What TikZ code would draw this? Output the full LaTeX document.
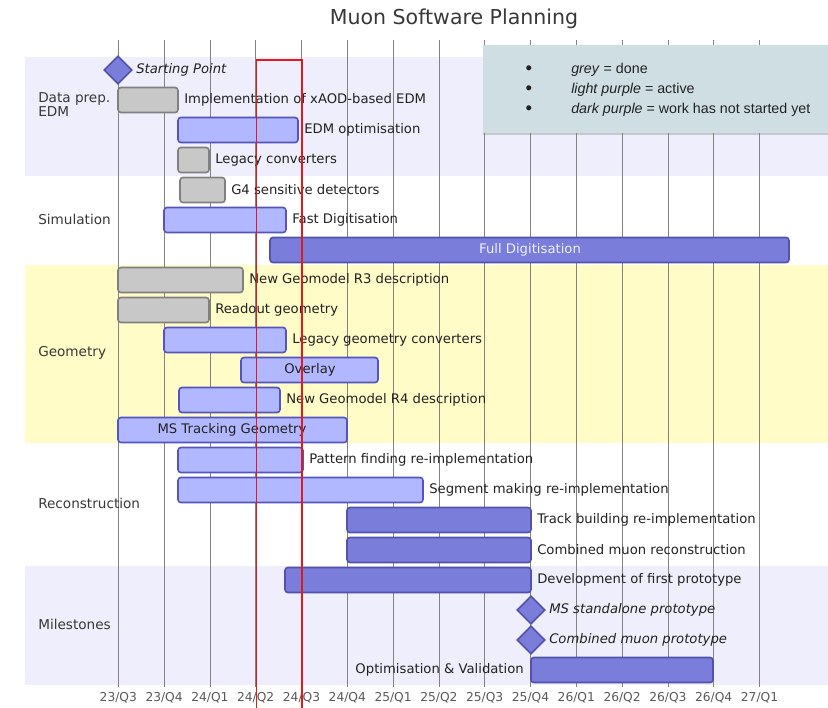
\documentclass[tikz,border=0pt]{standalone}
\usepackage{fontspec}
\setmainfont{DejaVu Sans}
\newfontfamily\legendfont{Liberation Sans}
\usetikzlibrary{shapes.geometric, positioning, shadows}

\definecolor{bandlav}{RGB}{238,238,252}
\definecolor{bandyel}{RGB}{255,252,200}
\definecolor{donefill}{RGB}{200,200,200}
\definecolor{doneline}{RGB}{128,128,128}
\definecolor{activefill}{RGB}{178,184,255}
\definecolor{activeline}{RGB}{84,84,190}
\definecolor{todofill}{RGB}{122,126,218}
\definecolor{todoline}{RGB}{82,82,172}
\definecolor{legendfill}{RGB}{207,222,226}
\definecolor{textgrey}{RGB}{34,34,34}
\definecolor{gridgrey}{RGB}{130,130,130}
\definecolor{nowred}{RGB}{225,25,25}

\tikzset{
  donebar/.style={draw=doneline, fill=donefill, line width=1.2pt, rounded corners=2.2pt},
  activebar/.style={draw=activeline, fill=activefill, line width=1.2pt, rounded corners=2.2pt},
  todobar/.style={draw=todoline, fill=todofill, line width=1.2pt, rounded corners=2.2pt},
  tasklabel/.style={anchor=west, inner sep=0pt, text=textgrey, font=\fontsize{9.9}{11}\selectfont},
  inlabel/.style={inner sep=0pt, text=textgrey, font=\fontsize{9.9}{11}\selectfont},
  mstone/.style={diamond, draw=todoline, fill=todofill, line width=1.2pt, inner sep=0pt,
    minimum width=21pt, minimum height=21pt},
  catlabel/.style={anchor=west, inner sep=0pt, align=left, text=textgrey!90!white,
    font=\fontsize{10.2}{7.5}\selectfont},
  axislabel/.style={inner sep=0pt, text=textgrey!75!white, font=\fontsize{9.2}{11}\selectfont},
  legendtext/.style={anchor=west, inner sep=0pt, text=textgrey, font=\legendfont\fontsize{10.7}{12}\selectfont},
  nowframe/.style={draw=nowred, line width=1.3pt}
}

% bar with its label on the right
\newcommand{\task}[6]{%
  \draw[#2] (#3,#5-12.5) rectangle (#4,#5+12.5);
  \node[tasklabel] (#1) at (#4+6,#5) {#6};
}
% milestone diamond
\newcommand{\goal}[4]{%
  \node[mstone] (#1) at (#2,#3) {};
  \node[tasklabel, font=\fontsize{9.9}{11}\selectfont\itshape] (#1-text) at (#2+18,#3) {#4};
}

\begin{document}
\begin{tikzpicture}[x=0.75pt, y=-0.75pt]
\useasboundingbox (0,0) rectangle (828,707);

% title
\node[text=textgrey!90!white, font=\fontsize{15.4}{18}\selectfont] (title) at (454,19) {Muon Software Planning};

% section bands
\fill[bandlav] (25,57) rectangle (828,176);
\fill[bandyel] (25,265) rectangle (828,443);
\fill[bandlav] (25,566) rectangle (828,685);

% quarters
\foreach \yr/\qt [count=\i from 0] in {23/Q3,23/Q4,24/Q1,24/Q2,24/Q3,24/Q4,25/Q1,25/Q2,25/Q3,25/Q4,26/Q1,26/Q2,26/Q3,26/Q4,27/Q1} {
  \draw[gridgrey, line width=0.6pt] (118.3+45.8*\i,40) -- (118.3+45.8*\i,687);
  \node[axislabel] (q\i) at (118.3+45.8*\i,698) {\yr/\qt};
}

% sections
\node[catlabel] (secedm) at (38,105) {Data prep.\\EDM};
\node[catlabel] (secsim) at (38,219) {Simulation};
\node[catlabel] (secgeo) at (38,353) {Geometry};
\node[catlabel] (secreco) at (38,503) {Reconstruction};
\node[catlabel] (secmile) at (38,624) {Milestones};

% Data prep. / EDM
\goal{start}{118}{70}{Starting Point}
\task{xaod}{donebar}{118}{178}{100}{Implementation of xAOD-based EDM}
\task{edmopt}{activebar}{178}{298}{130}{EDM optimisation}
\task{legconv}{donebar}{178}{209}{160}{Legacy converters}

% Simulation
\task{gfour}{donebar}{180}{225}{190}{G4 sensitive detectors}
\task{fastdigi}{activebar}{164}{286}{220}{Fast Digitisation}
\draw[todobar] (270,237.5) rectangle (789,262.5);
\node[inlabel, text=white!88!todofill] (fulldigi) at (530,250) {Full Digitisation};

% Geometry
\task{geothree}{donebar}{118}{243}{280}{New Geomodel R3 description}
\task{readout}{donebar}{118}{209}{310}{Readout geometry}
\task{leggeo}{activebar}{164}{286}{340}{Legacy geometry converters}
\draw[activebar] (241,357.5) rectangle (378,382.5);
\node[inlabel] (overlay) at (310,370) {Overlay};
\task{geofour}{activebar}{179}{280}{400}{New Geomodel R4 description}
\draw[activebar] (118,417.5) rectangle (347,442.5);
\node[inlabel] (mstrack) at (232,430) {MS Tracking Geometry};

% Reconstruction
\task{pattern}{activebar}{178}{303}{460}{Pattern finding re-implementation}
\task{segment}{activebar}{178}{423}{490}{Segment making re-implementation}
\task{track}{todobar}{347}{531}{520}{Track building re-implementation}
\task{combreco}{todobar}{347}{531}{550}{Combined muon reconstruction}

% Milestones
\task{proto}{todobar}{285}{531}{580}{Development of first prototype}
\goal{msproto}{531}{610}{MS standalone prototype}
\goal{combproto}{531}{640}{Combined muon prototype}
\draw[todobar] (531,657.5) rectangle (713,682.5);
\node[tasklabel, anchor=east] (optval) at (524,670) {Optimisation \& Validation};

% legend
\fill[legendfill, drop shadow={opacity=0.35, shadow xshift=0pt, shadow yshift=-1.5pt}] (483,45) rectangle (830,133);
\foreach \txt [count=\k from 0] in {{\textit{grey} = done}, {\textit{light purple} = active}, {\textit{dark purple} = work has not started yet}} {
  \node[legendtext, anchor=center, font=\legendfont\fontsize{14}{14}\selectfont] (bul\k) at (529,70+20*\k) {\textbullet};
  \node[legendtext] (leg\k) at (571,70+20*\k) {\txt};
}

% current period
\coordinate (nowtl) at (256.5,60);
\coordinate (nowtr) at (302,60);
\coordinate (nowbl) at (256.5,712);
\coordinate (nowbr) at (302,712);
\draw[nowframe] (nowbl) -- (nowtl) -- (nowtr) -- (nowbr);
\end{tikzpicture}
\end{document}
